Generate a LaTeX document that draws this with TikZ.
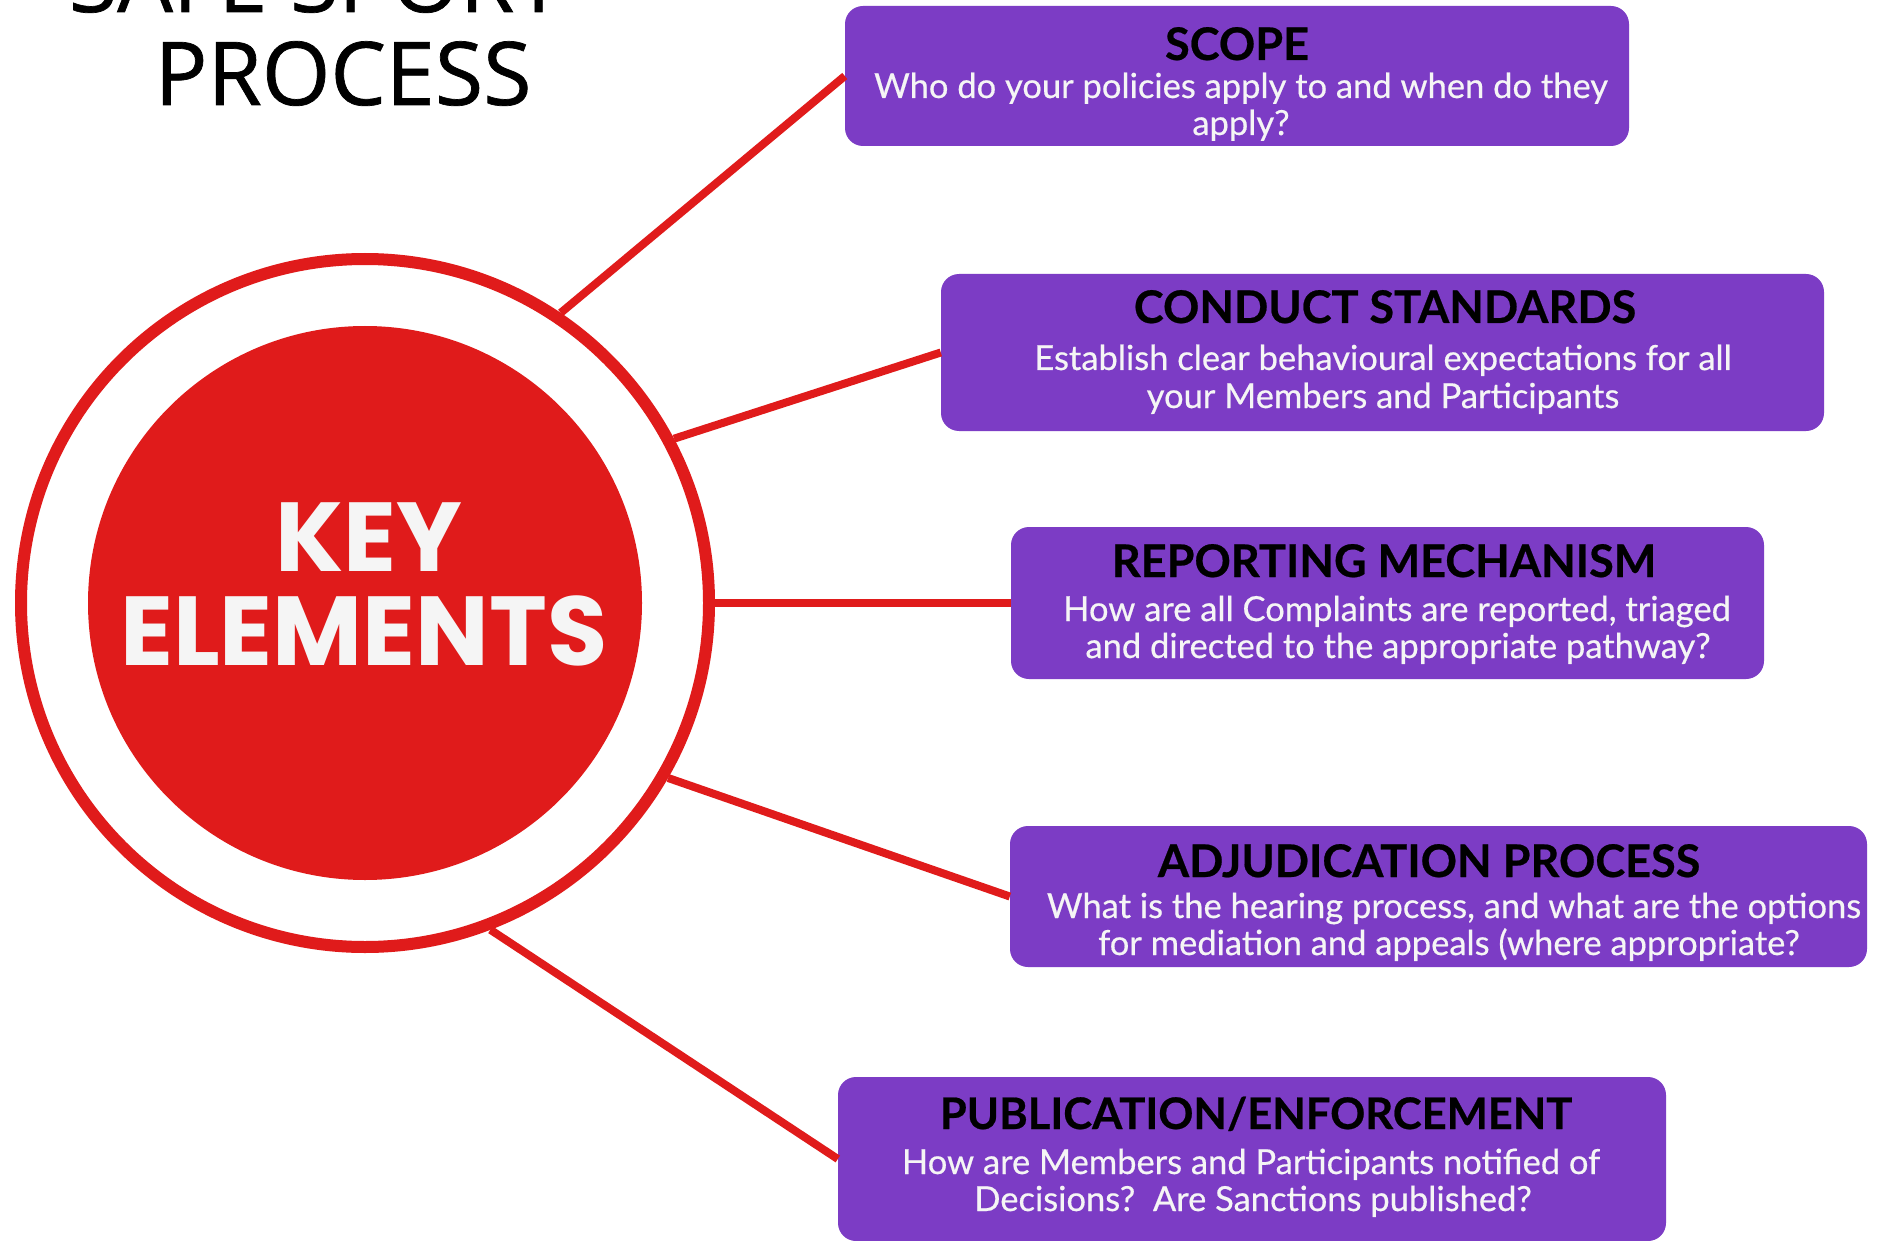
\documentclass[tikz,border=0pt]{standalone}
\usepackage{fontspec}
\setmainfont{Lato}
\newfontfamily\headfont[FakeBold=0.8]{Open Sans}
\newfontfamily\keyfont{Poppins}
\newfontfamily\boxfont[FakeBold=0.5]{Lato}
\definecolor{sred}{RGB}{224,27,27}
\definecolor{spurple}{RGB}{124,60,197}
\definecolor{soffwhite}{RGB}{245,245,245}
\begin{document}
\begin{tikzpicture}[x=1pt,y=-1pt,
  box/.style={rectangle, rounded corners=18pt, fill=spurple, inner sep=0pt},
  boxtitle/.style={anchor=base, inner sep=0pt, font=\boxfont\bfseries\fontsize{45}{54}\selectfont, text=black},
  boxline/.style={anchor=base, inner sep=0pt, font=\boxfont\fontsize{34.5}{40}\selectfont, text=soffwhite},
  headline/.style={anchor=base, inner sep=0pt, font=\headfont\fontsize{88}{100}\selectfont, text=black},
  keyline/.style={anchor=base, inner sep=0pt, font=\keyfont\bfseries\fontsize{98}{100}\selectfont, text=soffwhite},
  link/.style={draw=sred, line width=8pt},
]
\useasboundingbox (0,0) rectangle (1877,1241);
\fill[white] (0,0) rectangle (1877,1241);
\clip (0,0) rectangle (1877,1241);

% title
\node[headline] (head1) at (316,12) {SAFE SPORT};
\node[headline] (head2) at (343,105) {PROCESS};

% central circles
\node[circle, draw=sred, line width=12pt, minimum size=688pt, inner sep=0pt] (ring) at (365,603) {};
\node[circle, fill=sred, minimum size=554pt, inner sep=0pt] (core) at (365,603) {};
\node[keyline] (key1) at (369,571) {KEY};
\node[keyline] (key2) at (364,665) {ELEMENTS};

% boxes
\node[box, minimum width=784pt, minimum height=140pt] (scope) at (1237,76) {};
\node[box, minimum width=883pt, minimum height=157pt] (conduct) at (1382.5,352.5) {};
\node[box, minimum width=753pt, minimum height=152pt] (report) at (1387.5,603) {};
\node[box, minimum width=857pt, minimum height=141pt] (adjud) at (1438.5,896.5) {};
\node[box, minimum width=828pt, minimum height=164pt] (publ) at (1252,1159) {};

% box texts
\node[boxtitle] (scopeT) at (1237,60) {SCOPE};
\node[boxline] (scopeA) at (1241,98) {Who do your policies apply to and when do they};
\node[boxline] (scopeB) at (1241,135) {apply?};

\node[boxtitle] (conductT) at (1385,323) {CONDUCT STANDARDS};
\node[boxline] (conductA) at (1383,370) {Establish clear behavioural expectations for all};
\node[boxline] (conductB) at (1383,408) {your Members and Participants};

\node[boxtitle] (reportT) at (1384,577) {REPORTING MECHANISM};
\node[boxline] (reportA) at (1397,621) {How are all Complaints are reported, triaged};
\node[boxline] (reportB) at (1398,658) {and directed to the appropriate pathway?};

\node[boxtitle] (adjudT) at (1429,877) {ADJUDICATION PROCESS};
\node[boxline] (adjudA) at (1454,918) {What is the hearing process, and what are the options};
\node[boxline] (adjudB) at (1449,955) {for mediation and appeals (where appropriate?};

\node[boxtitle, font=\boxfont\bfseries\fontsize{43.5}{54}\selectfont] (publT) at (1256,1129) {PUBLICATION/ENFORCEMENT};
\node[boxline] (publA) at (1251,1174) {How are Members and Participants notified of};
\node[boxline] (publB) at (1253,1211) {Decisions?\ \ Are Sanctions published?};

% connectors
\draw[link] (ring.56.4) -- (scope.west);
\draw[link] (ring.28.2) -- (conduct.west);
\draw[link] (ring.0) -- (report.west);
\draw[link] (ring.-30.5) -- (adjud.west);
\draw[link] (ring.-69.5) -- (publ.west);
\end{tikzpicture}
\end{document}
